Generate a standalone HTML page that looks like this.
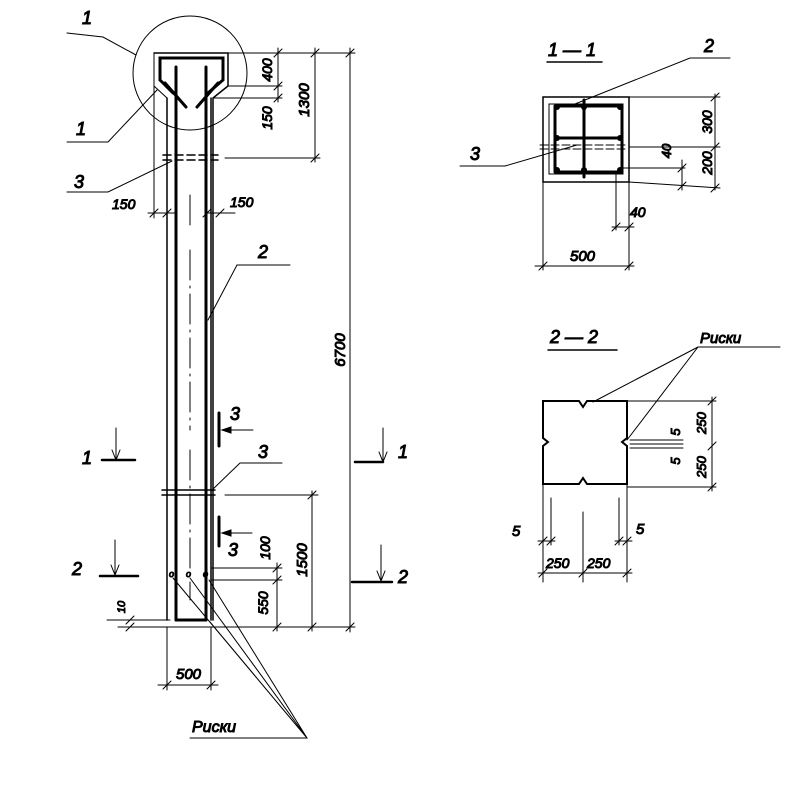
<!DOCTYPE html>
<html><head><meta charset="utf-8"><style>
html,body{margin:0;padding:0;background:#fff}
svg text{font-family:"Liberation Sans",sans-serif;font-style:italic;fill:#000}
</style></head><body>
<svg width="800" height="800" viewBox="0 0 800 800" xmlns="http://www.w3.org/2000/svg" stroke="#000" fill="none" stroke-linecap="round">
<!-- circle -->
<circle cx="190" cy="73" r="57" stroke-width="1"/>
<!-- head outer -->
<path d="M154 53 H228 V86 L213 98 V620" stroke-width="1.5"/>
<path d="M154 53 V218" stroke-width="1"/>
<path d="M167 98 V620" stroke-width="1.5"/>
<path d="M154 86 L167 98" stroke-width="1"/>
<!-- inner hopper -->
<path d="M160 80 V58 H223 V80 L208 93" stroke-width="3"/>
<path d="M160 80 L173 93" stroke-width="3"/>
<path d="M165 83 L186 107 M218 83 L197 107" stroke-width="3"/>
<!-- bars -->
<path d="M176 67 V620 M206 67 V620" stroke-width="3"/>
<path d="M176 620 H206" stroke-width="3"/>
<path d="M211 98 V620" stroke-width="1.5"/>
<!-- center line -->
<path d="M190 195 V230 M190 250 V430 M190 450 V600" stroke-width="1" stroke-dasharray="30 6 2 6"/>
<!-- bar 3 top -->
<path d="M163 155 H218 M163 160 H218" stroke-width="1.5" stroke-dasharray="8 4"/>
<path d="M225 158 H320" stroke-width="1"/>
<!-- bar 3 bottom -->
<path d="M162 490 H215 M162 495 H215" stroke-width="1.5"/>
<path d="M225 495 H318" stroke-width="1"/>
<!-- top dims -->
<path d="M228 53 H355 M228 86 H282 M213 98 H282" stroke-width="1"/>
<path d="M278 48 V102 M315 48 V162 M350 48 V632" stroke-width="1"/>
<path d="M274 57 l8 -8 M274 90 l8 -8 M274 102 l8 -8 M311 57 l8 -8 M311 162 l8 -8 M346 57 l8 -8 M346 631 l8 -8" stroke-width="1"/>
<text transform="translate(272,70) rotate(-90)" font-size="14" text-anchor="middle">400</text>
<text transform="translate(272,118) rotate(-90)" font-size="14" text-anchor="middle">150</text>
<text transform="translate(309,100) rotate(-90)" font-size="15" text-anchor="middle">1300</text>
<text transform="translate(345,350) rotate(-90)" font-size="15" text-anchor="middle">6700</text>
<!-- 150 dims -->
<path d="M148 213 H175 M207 213 H235" stroke-width="1"/>
<path d="M150 217 l8 -8 M163 217 l8 -8 M203 217 l8 -8 M216 217 l8 -8" stroke-width="1"/>
<path d="M211 205 V220" stroke-width="1"/>
<text x="112" y="209" font-size="14">150</text>
<text x="230" y="207" font-size="14">150</text>
<!-- labels left -->
<text x="82" y="24" font-size="18">1</text>
<path d="M67 33 L103 37 L136 55" stroke-width="1"/>
<text x="76" y="135" font-size="18">1</text>
<path d="M67 142 H108 L157 90" stroke-width="1"/>
<text x="74" y="188" font-size="18">3</text>
<path d="M67 192 H108 L172 161" stroke-width="1"/>
<text x="258" y="258" font-size="18">2</text>
<path d="M290 265 H237 L208 320" stroke-width="1"/>
<text x="258" y="458" font-size="18">3</text>
<path d="M282 463 H240 L211 491" stroke-width="1"/>
<!-- section 3 markers -->
<path d="M219 413 V446 M219 517 V546" stroke-width="3"/>
<path d="M253 430 H222 M252 533 H222" stroke-width="1"/>
<path d="M222 430 l9 -3 v6 z M222 533 l9 -3 v6 z" fill="#000" stroke-width="1"/>
<text x="230" y="420" font-size="18">3</text>
<text x="228" y="556" font-size="18">3</text>
<!-- section 1 and 2 markers -->
<text x="82" y="464" font-size="18">1</text>
<path d="M102 460 H135 M383 462 H355" stroke-width="2.5"/>
<path d="M116 428 V458 M383 428 V460" stroke-width="1"/>
<path d="M116 460 l-4 -10 M116 460 l4 -10 M383 462 l-4 -10 M383 462 l4 -10" stroke-width="1"/>
<text x="398" y="458" font-size="18">1</text>
<text x="72" y="575" font-size="18">2</text>
<path d="M100 576 H138 M352 582 H392" stroke-width="2.5"/>
<path d="M115 540 V574 M381 545 V580" stroke-width="1"/>
<path d="M115 575 l-4 -10 M115 575 l4 -10 M381 581 l-4 -10 M381 581 l4 -10" stroke-width="1"/>
<text x="398" y="583" font-size="18">2</text>
<!-- bottom dims -->
<path d="M211 568 H282 M211 580 H282 M107 620 H170 M118 627 H355" stroke-width="1"/>
<path d="M277 563 V631 M312 491 V631" stroke-width="1"/>
<path d="M273 572 l8 -8 M273 584 l8 -8 M273 631 l8 -8 M308 499 l8 -8 M308 631 l8 -8 M126 624 l8 -8 M126 631 l8 -8" stroke-width="1"/>
<text transform="translate(270,548) rotate(-90)" font-size="14" text-anchor="middle">100</text>
<text transform="translate(268,603) rotate(-90)" font-size="14" text-anchor="middle">550</text>
<text transform="translate(307,560) rotate(-90)" font-size="15" text-anchor="middle">1500</text>
<text transform="translate(125,607) rotate(-90)" font-size="11" text-anchor="middle">10</text>
<!-- marks -->
<text x="169" y="577" font-size="9">o</text>
<text x="186" y="577" font-size="9">o</text>
<text x="203" y="577" font-size="9">o</text>
<!-- 500 -->
<path d="M167 627 V690 M211 627 V690 M158 685 H218" stroke-width="1"/>
<path d="M163 689 l8 -8 M207 689 l8 -8" stroke-width="1"/>
<text x="176" y="679" font-size="15">500</text>
<!-- Риски -->
<text x="192" y="732" font-size="16">Риски</text>
<path d="M190 738 H307 L173 578 M307 738 L190 578 M307 738 L209 580 M307 738 L210 622" stroke-width="1"/>

<!-- Section 1-1 -->
<text x="548" y="56" font-size="18">1 — 1</text>
<path d="M547 62 H602" stroke-width="1.5"/>
<rect x="543" y="97" width="86" height="85" stroke-width="1.5"/>
<rect x="549" y="104" width="74" height="70" stroke-width="1"/>
<path d="M555 106 H622 M555 172 H622 M555 106 V172 M622 106 V172 M584 100 V177 M555 138 H622" stroke-width="3"/>
<g fill="#000" stroke="none">
<circle cx="557" cy="107" r="3"/><circle cx="584" cy="107" r="3"/><circle cx="620" cy="107" r="3"/>
<circle cx="557" cy="138" r="3"/><circle cx="620" cy="138" r="3"/>
<circle cx="557" cy="170" r="3"/><circle cx="584" cy="170" r="3"/><circle cx="620" cy="170" r="3"/>
</g>
<path d="M540 145 H628 M540 149 H628" stroke-width="1" stroke-dasharray="8 3"/>
<text x="704" y="52" font-size="18">2</text>
<path d="M730 58 H690 L570 106" stroke-width="1"/>
<text x="470" y="160" font-size="18">3</text>
<path d="M460 166 H505 L577 145" stroke-width="1"/>
<path d="M629 97 H720 M629 147 H720 M622 168 H685 M629 182 L720 188" stroke-width="1"/>
<path d="M715 94 V190 M682 160 V190" stroke-width="1"/>
<path d="M711 101 l8 -8 M711 151 l8 -8 M711 192 l8 -8 M678 172 l8 -8 M678 190 l8 -8" stroke-width="1"/>
<text transform="translate(712,122) rotate(-90)" font-size="14" text-anchor="middle">300</text>
<text transform="translate(712,163) rotate(-90)" font-size="14" text-anchor="middle">200</text>
<text transform="translate(671,151) rotate(-90)" font-size="13" text-anchor="middle">40</text>
<path d="M616 172 V230 M629 182 V270 M543 182 V270" stroke-width="1"/>
<path d="M612 227 H634 M535 266 H634" stroke-width="1"/>
<path d="M612 231 l8 -8 M625 231 l8 -8 M539 270 l8 -8 M625 270 l8 -8" stroke-width="1"/>
<text x="630" y="217" font-size="14">40</text>
<text x="570" y="261" font-size="15">500</text>

<!-- Section 2-2 -->
<text x="550" y="343" font-size="18">2 — 2</text>
<path d="M548 350 H617" stroke-width="1.5"/>
<path d="M543 401 H579 L583 407 L587 401 H627 V438 L622 442 L627 446 V484 H587 L583 478 L579 484 H543 V446 L548 442 L543 438 Z" stroke-width="2"/>
<text x="700" y="343" font-size="15">Риски</text>
<path d="M698 347 H780 M698 347 L593 402 M698 347 L627 440" stroke-width="1"/>
<path d="M627 401 H716 M627 487 H716" stroke-width="1"/>
<path d="M712 397 V491" stroke-width="1"/>
<path d="M708 405 l8 -8 M708 450 l8 -8 M708 491 l8 -8" stroke-width="1"/>
<path d="M630 440 H683 M630 444 H683 M630 448 H683" stroke-width="1"/>
<text transform="translate(706,423) rotate(-90)" font-size="13" text-anchor="middle">250</text>
<text transform="translate(706,467) rotate(-90)" font-size="13" text-anchor="middle">250</text>
<text transform="translate(680,432) rotate(-90)" font-size="13" text-anchor="middle">5</text>
<text transform="translate(680,461) rotate(-90)" font-size="13" text-anchor="middle">5</text>
<path d="M543 484 V582 M627 484 V582 M583 512 V582 M551 498 V545 M619 498 V545" stroke-width="1"/>
<path d="M538 573 H632 M538 541 H555 M615 541 H632" stroke-width="1"/>
<path d="M539 577 l8 -8 M579 577 l8 -8 M623 577 l8 -8 M539 545 l8 -8 M547 545 l8 -8 M615 545 l8 -8 M623 545 l8 -8" stroke-width="1"/>
<text x="546" y="568" font-size="14">250</text>
<text x="587" y="568" font-size="14">250</text>
<text x="512" y="536" font-size="15">5</text>
<text x="636" y="534" font-size="15">5</text>
</svg>
</body></html>
